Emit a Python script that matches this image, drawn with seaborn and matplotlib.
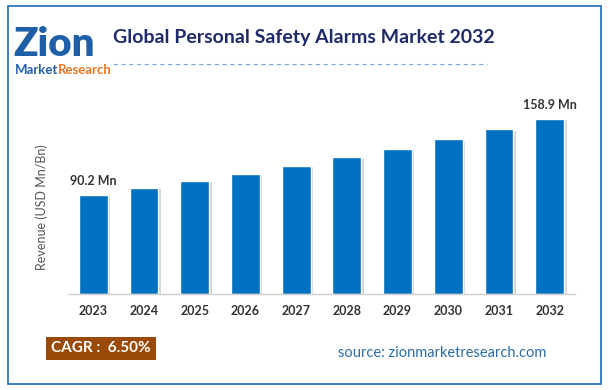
import matplotlib
matplotlib.use("Agg")
import matplotlib.pyplot as plt
import matplotlib.patheffects as pe
from matplotlib.patches import Rectangle
import seaborn as sns
import pandas as pd

years = ["2023", "2024", "2025", "2026", "2027", "2028", "2029", "2030", "2031", "2032"]
revenue = [90.2, 96.2, 102.8, 109.4, 116.7, 124.0, 132.0, 140.4, 149.5, 158.9]
first_label = "90.2 Mn"
last_label = "158.9 Mn"
title = "Global Personal Safety Alarms Market 2032"
ylabel = "Revenue (USD Mn/Bn)"
cagr_text = "CAGR :  6.50%"
source_text = "source: zionmarketresearch.com"

sns.set_theme(style="white")
plt.rcParams['font.family'] = ['Lato', 'DejaVu Sans']

W, H = 609, 390
fig = plt.figure(figsize=(W / 100, H / 100), dpi=100)
fig.patch.set_facecolor("white")

def fx(x):
    return x / W

def fy(y):
    return 1 - y / H

# border
fig.patches.append(Rectangle((fx(8), fy(384)), fx(601) - fx(8), fy(6) - fy(384),
                             transform=fig.transFigure, fill=False,
                             edgecolor="#2E75B6", linewidth=1.3))

ax = fig.add_axes([fx(68), fy(294), fx(575) - fx(68), fy(100) - fy(294)])
df = pd.DataFrame({"year": years, "revenue": revenue})
sns.barplot(data=df, x="year", y="revenue", color="#0070C0", saturation=1,
            width=0.57, ax=ax)
for p in ax.patches:
    p.set_path_effects([pe.SimplePatchShadow(offset=(1.8, -1), shadow_rgbFace="#8c8c8c", alpha=0.35),
                        pe.Normal()])
ax.set_xlim(-0.5, 9.5)
ax.set_ylim(0, 176.2)
ax.set_yticks([])
ax.set_xlabel("")
ax.set_ylabel("")
for s in ["top", "right", "left"]:
    ax.spines[s].set_visible(False)
ax.spines["bottom"].set_color("#d0d0d0")
ax.spines["bottom"].set_linewidth(1.0)
ax.tick_params(axis="x", length=0, pad=8, labelsize=9, labelcolor="#333333")
for t in ax.get_xticklabels():
    t.set_fontweight("bold")

ax.text(0, revenue[0] + 7, first_label, ha="center", va="bottom", fontsize=9,
        fontweight="bold", color="#333333")
ax.text(9, revenue[-1] + 7, last_label, ha="center", va="bottom", fontsize=9,
        fontweight="bold", color="#333333")

fig.text(fx(42), fy(207), ylabel, rotation=90, ha="center", va="center",
         fontsize=9, color="#555555")

# title
fig.text(fx(113), fy(38), title, ha="left", va="center", fontsize=14,
         fontweight="bold", color="#1F2A6B")
fig.lines.append(plt.Line2D([fx(113), fx(487)], [fy(64), fy(64)], transform=fig.transFigure,
                            color="#7FA7D9", linewidth=0.8, linestyle=(0, (4, 3))))

# logo
fig.text(fx(13), fy(44), "Zion", ha="left", va="center", fontsize=29,
         fontweight="heavy", color="#1F5FA8")
fig.text(fx(15), fy(70), "Market", ha="left", va="center", fontsize=9.5,
         fontweight="bold", color="#1F5FA8")
fig.text(fx(58), fy(70), "Research", ha="left", va="center", fontsize=9.5,
         fontweight="bold", color="#E87722")

# CAGR box
fig.patches.append(Rectangle((fx(46), fy(360)), fx(156) - fx(46), fy(337) - fy(360),
                             transform=fig.transFigure, facecolor="#9A4A06", edgecolor="none"))
fig.text(fx(101), fy(348.5), cagr_text, ha="center", va="center", fontsize=11,
         fontweight="bold", color="white")

fig.text(fx(338), fy(353), source_text, ha="left", va="center", fontsize=10.5,
         color="#2E6DA4")

fig.savefig("out.png", dpi=100, facecolor="white")
